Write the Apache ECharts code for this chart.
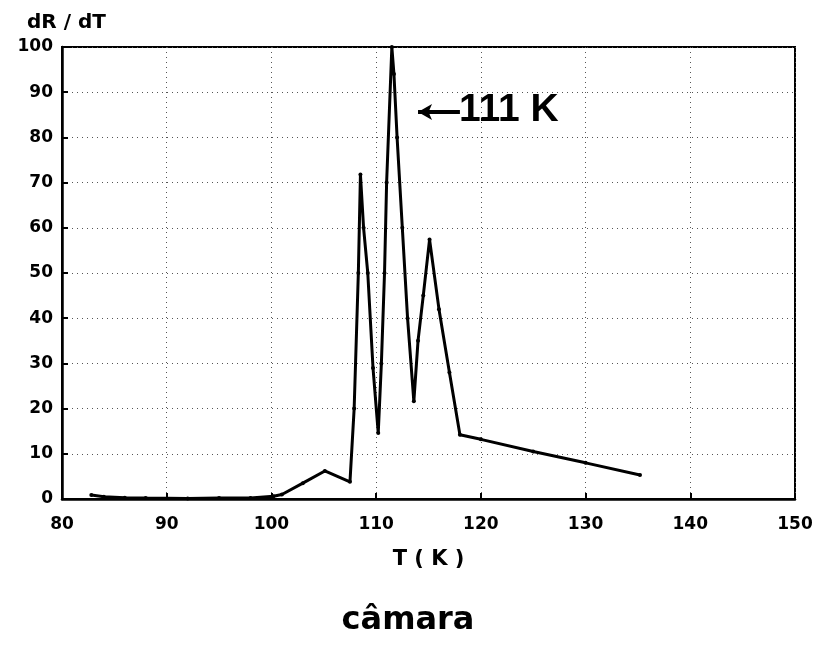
<!DOCTYPE html>
<html><head><meta charset="utf-8">
<script src="https://cdn.jsdelivr.net/npm/echarts@6/dist/echarts.min.js"></script>
<style>html,body{margin:0;padding:0;background:#fff}#c{width:816px;height:653px}</style>
</head><body><div id="c"></div>
<script>
const temps = [82.8,84,86,88,92,95,98,100.2,101,103,105.1,107.5,107.9,108.3,108.5,108.8,109.2,109.7,110.2,110.5,110.8,111.0,111.5,111.7,112.0,112.5,113.0,113.6,114.0,114.5,115.1,116.0,117.0,118.0,120,125,130,135.2];
const dRdT  = [0.9,0.5,0.3,0.2,0.1,0.2,0.2,0.6,1.0,3.5,6.2,3.8,20,50,71.8,60,50,29,14.6,30,50,70,100,94,80,60,40,21.6,35,45,57.4,42,28,14.2,13.2,10.5,8.0,5.3];
const xTicks = [80,90,100,110,120,130,140,150];
const yTicks = [0,10,20,30,40,50,60,70,80,90,100];
const annotation = {text: '111 K', arrowFrom: [118.0, 85.6], arrowTo: [114.0, 85.6]};

const chart = echarts.init(document.getElementById('c'));
const lab = {fontFamily:'DejaVu Sans', fontWeight:'bold', fontSize:17, color:'#000'};
chart.setOption({
  animation:false,
  backgroundColor:'#fff',
  grid:{left:62, right:21, top:47, bottom:154, show:true, borderColor:'#000', borderWidth:2},
  xAxis:{type:'value', min:80, max:150, interval:10,
    axisLine:{show:true, onZero:false, lineStyle:{color:'#000', width:2.5}},
    axisTick:{show:true, inside:true, length:6, lineStyle:{color:'#000', width:2}},
    axisLabel:Object.assign({margin:17, formatter:v=>xTicks.includes(v)?String(v):''}, lab),
    splitLine:{show:true, lineStyle:{color:'#555', type:[1,4], width:1}},
    name:'T ( K )', nameLocation:'middle', nameGap:50,
    nameTextStyle:{fontFamily:'DejaVu Sans', fontWeight:'bold', fontSize:21, color:'#000'}},
  yAxis:{type:'value', min:0, max:100, interval:10,
    axisLine:{show:true, lineStyle:{color:'#000', width:2.5}},
    axisTick:{show:true, inside:true, length:6, lineStyle:{color:'#000', width:2}},
    axisLabel:Object.assign({margin:9, formatter:v=>yTicks.includes(v)?String(v):''}, lab),
    splitLine:{show:true, lineStyle:{color:'#555', type:[1,4], width:1}}},
  graphic:[
    {type:'text', left:27, top:13, style:{text:'dR / dT', font:'bold 20px "DejaVu Sans"', fill:'#000'}},
    {type:'text', left:'center', top:605, style:{text:'câmara', font:'bold 32px "DejaVu Sans"', fill:'#000'}},
    {type:'text', left:459, top:91, style:{text:annotation.text, font:'bold 39px "Liberation Sans"', fill:'#000'}}
  ],
  series:[{
    type:'line', data:temps.map((t,i)=>[t,dRdT[i]]),
    showSymbol:true, symbol:'circle', symbolSize:4,
    itemStyle:{color:'#000'}, lineStyle:{color:'#000', width:3},
    markLine:{silent:true, symbol:['none','arrow'], symbolSize:[12,14],
      label:{show:false}, lineStyle:{color:'#000', width:4, type:'solid'},
      data:[[{coord:annotation.arrowFrom},{coord:annotation.arrowTo}]]}
  }]
});
</script></body></html>
